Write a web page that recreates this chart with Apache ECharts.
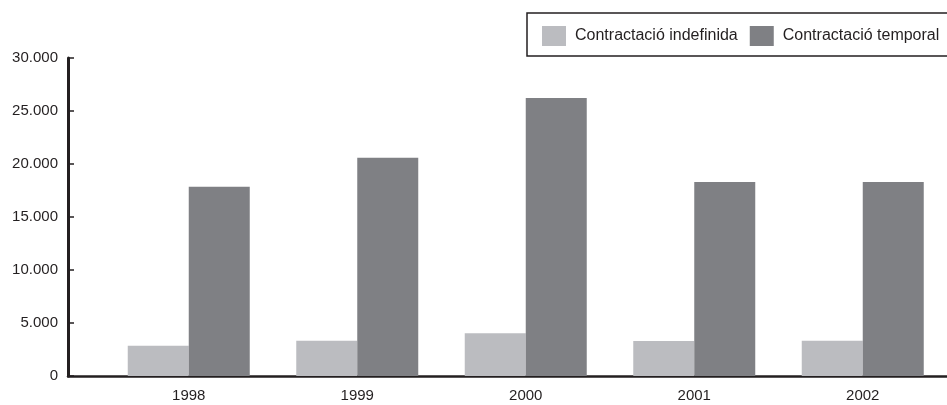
<!DOCTYPE html>
<html>
<head>
<meta charset="utf-8">
<script src="https://cdn.jsdelivr.net/npm/echarts@6/dist/echarts.min.js"></script>
<style>
html,body{margin:0;padding:0;background:#fff;}
#main{width:947px;height:405px;}
</style>
</head>
<body>
<div id="main"></div>
<script>
var years = ['1998', '1999', '2000', '2001', '2002'];
var indefinida = [2850, 3330, 4030, 3300, 3330];
var temporal = [17850, 20590, 26230, 18300, 18300];
var seriesNames = ['Contractació indefinida', 'Contractació temporal'];

var chart = echarts.init(document.getElementById('main'), null, {renderer: 'canvas'});
var textColor = '#231f20';
var font = '"Liberation Sans", Arial, sans-serif';
var fs = 15;
chart.setOption({
  animation: false,
  backgroundColor: '#fff',
  textStyle: {fontFamily: font},
  legend: {
    left: 527, top: 13, width: 480,
    padding: [13, 20, 10, 15],
    borderColor: textColor, borderWidth: 1.5,
    itemWidth: 24, itemHeight: 20, itemGap: 12,
    icon: 'rect',
    textStyle: {fontSize: 16, color: textColor, fontFamily: font, padding: [0, 0, 0, 4]},
    data: seriesNames
  },
  grid: [
    {left: 104.5, width: 845, top: 58, height: 318},
    {left: 68, right: 0, top: 58, height: 318}
  ],
  xAxis: [
    {
      type: 'category', gridIndex: 0, data: years,
      axisLine: {show: false}, axisTick: {show: false},
      axisLabel: {fontSize: fs, color: textColor, margin: 12, fontFamily: font}
    },
    {
      type: 'value', gridIndex: 1, min: 0, max: 1,
      axisLine: {show: true, lineStyle: {color: textColor, width: 2.5}},
      axisTick: {show: false}, axisLabel: {show: false}, splitLine: {show: false}
    }
  ],
  yAxis: [
    {
      type: 'value', gridIndex: 0, min: 0, max: 30000, interval: 5000,
      show: false, splitLine: {show: false}
    },
    {
      type: 'value', gridIndex: 1, min: 0, max: 30000, interval: 5000,
      axisLine: {show: true, lineStyle: {color: textColor, width: 3}},
      axisTick: {show: true, inside: true, length: 6, lineStyle: {color: textColor, width: 1.5}},
      splitLine: {show: false},
      axisLabel: {
        fontSize: fs, color: textColor, margin: 10, fontFamily: font,
        formatter: function (v) { return v === 0 ? '0' : (v / 1000).toFixed(3); }
      }
    }
  ],
  series: [
    {
      name: seriesNames[0], type: 'bar', xAxisIndex: 0, yAxisIndex: 0,
      data: indefinida, barWidth: 61, barGap: '0%',
      itemStyle: {color: '#bbbcc0'}
    },
    {
      name: seriesNames[1], type: 'bar', xAxisIndex: 0, yAxisIndex: 0,
      data: temporal, barWidth: 61, barGap: '0%',
      itemStyle: {color: '#7f8084'}
    }
  ]
});
</script>
</body>
</html>
